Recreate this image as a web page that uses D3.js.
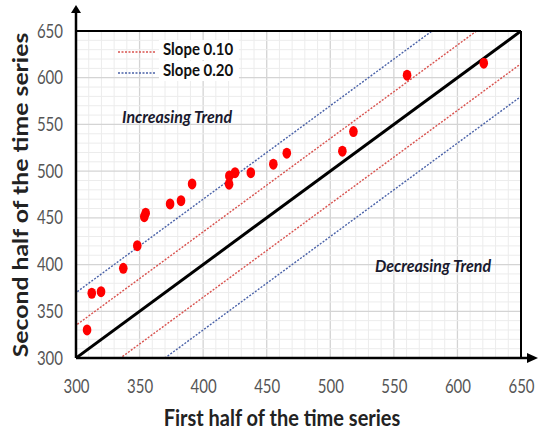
<!DOCTYPE html>
<html>
<head>
<meta charset="utf-8">
<script src="https://cdn.jsdelivr.net/npm/d3@7"></script>
<style>
  body { margin: 0; background: #fff; }
  text { font-family: Lato, "Open Sans", sans-serif; }
</style>
</head>
<body>
<div id="root"></div>
<script>
// first half vs second half of the time series
var firstHalf  = [308.7, 312.4, 319.7, 337.2, 348.2, 353.7, 354.8, 374.0, 382.6, 391.3,
                  420.4, 420.6, 425.1, 437.5, 455.2, 465.8, 509.5, 518.2, 560.4, 620.7];
var secondHalf = [330.0, 369.3, 371.0, 396.0, 420.2, 451.3, 455.0, 464.9, 468.4, 486.3,
                  486.0, 494.9, 498.4, 498.4, 507.4, 519.2, 521.4, 542.3, 602.7, 615.5];
var tickValues = [300, 350, 400, 450, 500, 550, 600, 650];
var slopeLabels = ["Slope 0.10", "Slope 0.20"];
var slopeOffsets = [35, 70];   // distance of the band lines from y = x
var slopeColors = ["#d9534f", "#4a62a8"];

var W = 538, H = 435;
var margin = { top: 31, right: 17, bottom: 77, left: 76 };
var width = W - margin.left - margin.right,
    height = H - margin.top - margin.bottom;

var svg = d3.select("#root").append("svg")
    .attr("width", W)
    .attr("height", H);

var x = d3.scaleLinear().domain([300, 650]).range([0, width]);
var y = d3.scaleLinear().domain([300, 650]).range([height, 0]);

var defs = svg.append("defs");
defs.append("clipPath").attr("id", "plot")
  .append("rect").attr("width", width).attr("height", height);

var g = svg.append("g")
    .attr("transform", "translate(" + margin.left + "," + margin.top + ")");

// minor + major grid
var minor = d3.range(300, 651, 10);
g.append("g").selectAll("line").data(minor).enter().append("line")
    .attr("x1", d => x(d)).attr("x2", d => x(d))
    .attr("y1", 0).attr("y2", height)
    .attr("stroke", d => d % 50 === 0 ? "#d4d4d4" : "#ececec")
    .attr("stroke-width", d => d % 50 === 0 ? 1.3 : 1);
g.append("g").selectAll("line").data(minor).enter().append("line")
    .attr("y1", d => y(d)).attr("y2", d => y(d))
    .attr("x1", 0).attr("x2", width)
    .attr("stroke", d => d % 50 === 0 ? "#d4d4d4" : "#ececec")
    .attr("stroke-width", d => d % 50 === 0 ? 1.3 : 1);

// band lines
var lines = g.append("g").attr("clip-path", "url(#plot)");
slopeOffsets.forEach(function (off, i) {
  [off, -off].forEach(function (o) {
    lines.append("line")
      .attr("x1", x(250)).attr("y1", y(250 + o))
      .attr("x2", x(700)).attr("y2", y(700 + o))
      .attr("stroke", slopeColors[i])
      .attr("stroke-width", 1.4)
      .attr("stroke-dasharray", "2,1.5");
  });
});
lines.append("line")
  .attr("x1", x(300)).attr("y1", y(300))
  .attr("x2", x(650)).attr("y2", y(650))
  .attr("stroke", "#000").attr("stroke-width", 3);

// points
g.append("g").selectAll("ellipse").data(firstHalf).enter().append("ellipse")
    .attr("cx", (d, i) => x(d))
    .attr("cy", (d, i) => y(secondHalf[i]))
    .attr("rx", 4.3).attr("ry", 5.5)
    .attr("fill", "#ff0000");

// frame
g.append("line").attr("x1", 0).attr("x2", width).attr("y1", 0).attr("y2", 0)
  .attr("stroke", "#000").attr("stroke-width", 2);
g.append("line").attr("x1", width).attr("x2", width).attr("y1", 0).attr("y2", height)
  .attr("stroke", "#000").attr("stroke-width", 2);

// axes with arrows
g.append("line").attr("x1", 0).attr("x2", 0).attr("y1", height).attr("y2", -18)
  .attr("stroke", "#000").attr("stroke-width", 2.5);
g.append("path").attr("d", "M-5,-18 L5,-18 L0,-26 Z").attr("fill", "#000");
g.append("line").attr("x1", 0).attr("x2", width + 6).attr("y1", height).attr("y2", height)
  .attr("stroke", "#000").attr("stroke-width", 2.5);
g.append("path").attr("d", "M" + (width + 6) + ",-5 L" + (width + 17) + ",0 L" + (width + 6) + ",5 Z")
  .attr("transform", "translate(0," + height + ")").attr("fill", "#000");

// tick labels (the picture is stretched vertically, so stretch the text too)
var xAxis = d3.axisBottom(x).tickValues(tickValues).tickSize(0).tickPadding(17.5);
var yAxis = d3.axisLeft(y).tickValues(tickValues).tickSize(0).tickPadding(13);

var gx = g.append("g").attr("transform", "translate(0," + height + ")").call(xAxis);
var gy = g.append("g").call(yAxis);
[gx, gy].forEach(function (a) {
  a.select(".domain").remove();
  a.selectAll("text")
    .attr("font-family", "Lato, 'Open Sans', sans-serif")
    .attr("font-size", 15)
    .attr("fill", "#555")
    .attr("transform", "scale(1,1.25)");
});

// legend
var legend = g.append("g");
slopeLabels.forEach(function (lab, i) {
  var ly = 21 + i * 21;
  legend.append("rect").attr("x", 83).attr("y", ly - 12).attr("width", 80).attr("height", 20)
    .attr("fill", "#fff");
  legend.append("line").attr("x1", 42).attr("x2", 79).attr("y1", ly).attr("y2", ly)
    .attr("stroke", slopeColors[i]).attr("stroke-width", 1.4).attr("stroke-dasharray", "2,1.5");
  legend.append("text")
    .attr("transform", "translate(87," + (ly + 3) + ") scale(1,1.1)")
    .attr("font-size", 15).attr("font-weight", "bold").attr("fill", "#111")
    .text(lab);
});

g.append("text").attr("transform", "translate(101,92) scale(1,1.12)").attr("text-anchor", "middle")
  .attr("font-size", 16).attr("font-weight", "bold").attr("font-style", "italic")
  .attr("fill", "#1a1a2e").text("Increasing Trend");
g.append("text").attr("transform", "translate(357,241) scale(1,1.12)").attr("text-anchor", "middle")
  .attr("font-size", 16).attr("font-weight", "bold").attr("font-style", "italic")
  .attr("fill", "#1a1a2e").text("Decreasing Trend");

// axis titles
svg.append("text").attr("transform", "translate(282,426) scale(1,1.1)").attr("text-anchor", "middle")
  .attr("font-size", 20).attr("font-weight", "bold").attr("fill", "#222")
  .text("First half of the time series");
svg.append("text").attr("transform", "translate(28,195) rotate(-90) scale(1.24,1)").attr("text-anchor", "middle")
  .attr("font-size", 20).attr("font-weight", "bold").attr("fill", "#222")
  .text("Second half of the time series");
</script>
</body>
</html>
